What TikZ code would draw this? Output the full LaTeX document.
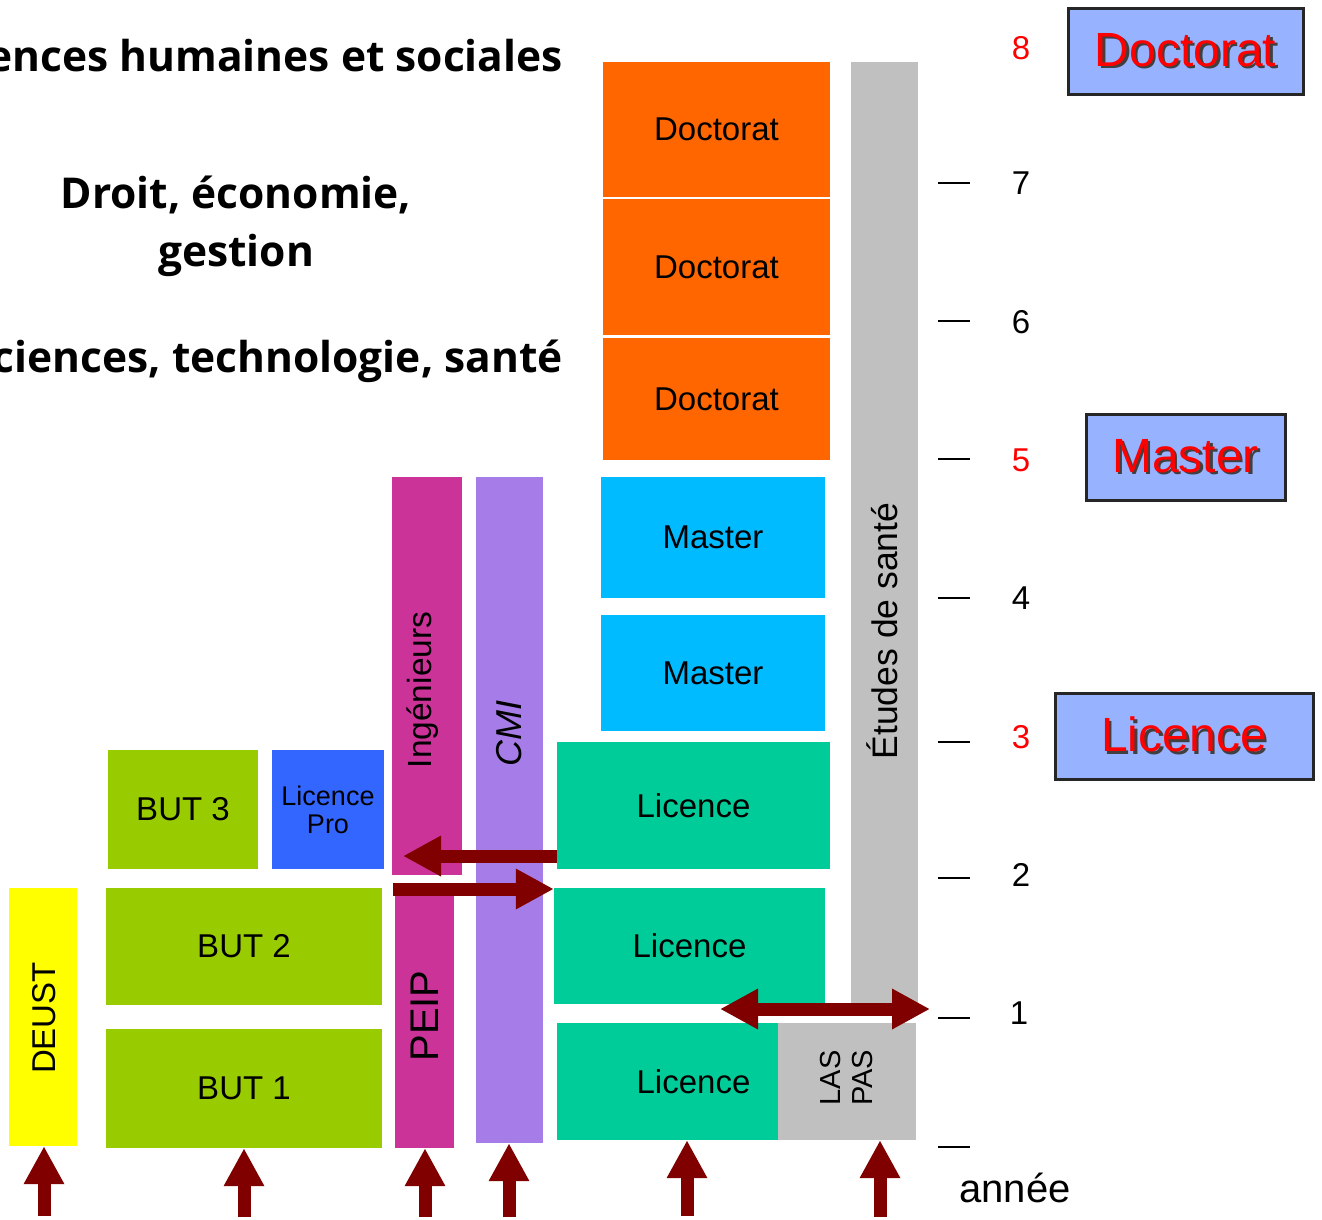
\documentclass[tikz,border=0pt]{standalone}
\usepackage{fontspec}
\setmainfont{Liberation Sans}
\newfontfamily\headfont{Open Sans}
\usetikzlibrary{arrows.meta}
\definecolor{corange}{HTML}{FF6600}
\definecolor{cgray}{HTML}{C0C0C0}
\definecolor{ccyan}{HTML}{00BBFF}
\definecolor{cteal}{HTML}{00CC99}
\definecolor{cmag}{HTML}{CC3399}
\definecolor{cpurp}{HTML}{A67DE8}
\definecolor{cblue}{HTML}{3366FF}
\definecolor{cgreen}{HTML}{99CC00}
\definecolor{cyell}{HTML}{FFFF00}
\definecolor{cdark}{HTML}{800000}
\definecolor{clight}{HTML}{97B2FF}
\newcommand\fs[1]{\fontsize{#1}{1.15\dimexpr#1pt\relax}\selectfont}
\newcommand\shtext[1]{\rlap{\kern2.5pt\raisebox{-2.5pt}{\textcolor{black!75}{#1}}}\textcolor{red}{#1}}
\tikzset{
  blk/.style={fill=#1, inner sep=0pt, font=\fs{33}, text=black},
  arr/.style={cdark, line width=13pt, -{Triangle[length=38pt,width=38pt]}},
  darr/.style={cdark, line width=13pt, {Triangle[length=38pt,width=38pt]}-{Triangle[length=38pt,width=38pt]}},
  tick/.style={line width=2.8pt},
  yr/.style={font=\fs{33}, inner sep=0pt},
  bigbox/.style={fill=clight, draw=black!85, line width=3pt, inner sep=0pt, font=\fs{48}},
  head/.style={font=\headfont\bfseries\fontsize{42.5}{58}\selectfont, inner sep=0pt}
}
\begin{document}
\begin{tikzpicture}[x=1pt,y=-1pt]
\useasboundingbox[fill=white] (0,0) rectangle (1322,1219);
% headings
\node[head, anchor=base east] (h1) at (563,71) {Sciences humaines et sociales};
\node[head, align=center] (h2) at (236,226) {Droit, économie,\\gestion};
\node[head, anchor=base east] (h3) at (563,372) {Sciences, technologie, santé};
% doctorat
\node[blk=corange, minimum width=227pt, minimum height=135pt] (doc1) at (716.5,129.5) {Doctorat};
\node[blk=corange, minimum width=227pt, minimum height=136pt] (doc2) at (716.5,267) {Doctorat};
\node[blk=corange, minimum width=227pt, minimum height=122pt] (doc3) at (716.5,399) {Doctorat};
% sante
\node[blk=cgray, minimum width=67pt, minimum height=948pt] (sante) at (884.5,536) {};
\node[font=\fs{35.5}, rotate=90, inner sep=0pt] (santetxt) at (882,631) {Études de santé};
% master
\node[blk=ccyan, minimum width=224pt, minimum height=121pt] (mas2) at (713,537.5) {Master};
\node[blk=ccyan, minimum width=224pt, minimum height=116pt] (mas1) at (713,673) {Master};
% licence
\node[blk=cteal, minimum width=273pt, minimum height=127pt] (lic3) at (693.5,805.5) {Licence};
\node[blk=cteal, minimum width=271pt, minimum height=116pt] (lic2) at (689.5,946) {Licence};
\node[blk=cteal, minimum width=273pt, minimum height=117pt] (lic1) at (693.5,1081.5) {Licence};
\node[blk=cgray, minimum width=138pt, minimum height=117pt] (laspas) at (847,1081.5) {};
\node[font=\fontsize{29}{32}\selectfont, rotate=90, align=center, inner sep=0pt, text=black] (laspastxt) at (847,1078) {LAS\\PAS};
% ingenieurs, peip, cmi
\node[blk=cmag, minimum width=70pt, minimum height=398pt] (ing) at (427,676) {};
\node[font=\fs{33.5}, rotate=90, inner sep=0pt] (ingtxt) at (423,690) {Ingénieurs};
\node[blk=cmag, minimum width=59pt, minimum height=260pt] (peip) at (424.5,1018) {};
\node[font=\fs{40}, rotate=90, inner sep=0pt] (peiptxt) at (425,1016) {PEIP};
\node[blk=cpurp, minimum width=67pt, minimum height=666pt] (cmi) at (509.5,810) {};
\node[font=\itshape\fs{36}, rotate=90, inner sep=0pt] (cmitxt) at (509,733) {CMI};
% but, lpro, deust
\node[blk=cgreen, minimum width=150pt, minimum height=119pt] (but3) at (183,809.5) {BUT 3};
\node[blk=cblue, minimum width=112pt, minimum height=119pt, align=center, font=\fs{27}] (lpro) at (328,809.5) {Licence\\[-3pt]Pro};
\node[blk=cgreen, minimum width=276pt, minimum height=117pt] (but2) at (244,946.5) {BUT 2};
\node[blk=cgreen, minimum width=276pt, minimum height=119pt] (but1) at (244,1088.5) {BUT 1};
\node[blk=cyell, minimum width=68pt, minimum height=258pt] (deust) at (43,1017) {};
\node[font=\fs{33}, rotate=90, inner sep=0pt] (deusttxt) at (44,1018) {DEUST};
% upward arrows
\coordinate (u1) at (44,1216);
\coordinate (u2) at (244,1217);
\coordinate (u3) at (425,1217);
\coordinate (u4) at (509,1217);
\coordinate (u5) at (687,1216);
\coordinate (u6) at (880,1217);
\draw[arr] (u1) -- (u1 |- deust.south);
\draw[arr] (u2) -- (u2 |- but1.south);
\draw[arr] (u3) -- (u3 |- peip.south);
\draw[arr] (u4) -- (u4 |- cmi.south);
\draw[arr] (u5) -- (u5 |- lic1.south);
\draw[arr] (u6) -- (u6 |- laspas.south);
% horizontal arrows
\coordinate (hl) at (403,856);
\coordinate (hr) at (393,889);
\coordinate (dl) at (720,1009);
\coordinate (dr) at (930,1009);
\draw[arr] (lic3.west |- hl) -- (hl);
\draw[arr] (hr) -- (lic2.west |- hr);
\draw[darr] (dl) -- (dr);
% year scale
\foreach \n/\y in {7/183,6/321,5/459,4/598,3/742,2/878,1/1018,0/1147}
  \draw[tick] (938,\y) -- (970,\y);
\node[yr, text=red] (y8) at (1021,48) {8};
\node[yr] (y7) at (1021,183) {7};
\node[yr] (y6) at (1021,322) {6};
\node[yr, text=red] (y5) at (1021,460) {5};
\node[yr] (y4) at (1021,598) {4};
\node[yr, text=red] (y3) at (1021,737) {3};
\node[yr] (y2) at (1021,875) {2};
\node[yr] (y1) at (1019,1013) {1};
\node[font=\fs{40}, inner sep=0pt] (annee) at (1015,1188) {année};
% level boxes
\node[bigbox, minimum width=235pt, minimum height=86pt] (bdoc) at (1185.5,51) {\shtext{Doctorat}};
\node[bigbox, minimum width=199pt, minimum height=86pt] (bmas) at (1185.5,457) {\shtext{Master}};
\node[bigbox, minimum width=258pt, minimum height=86pt] (blic) at (1184,736) {\shtext{Licence}};
\end{tikzpicture}
\end{document}
